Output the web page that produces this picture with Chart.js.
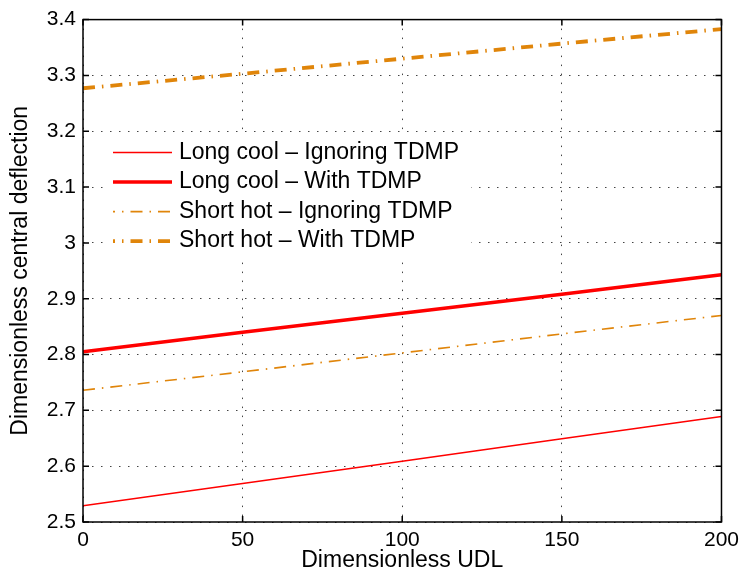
<!DOCTYPE html>
<html>
<head>
<meta charset="utf-8">
<script src="https://cdn.jsdelivr.net/npm/chart.js@4.4.0/dist/chart.umd.min.js"></script>
<style>
  html, body { margin: 0; padding: 0; background: #fff; }
  #wrap { width: 745px; height: 584px; }
</style>
</head>
<body>
<div id="wrap"><canvas id="deflectionChart" width="745" height="584"></canvas></div>
<script>
// values
const udl = [0, 50, 100, 150, 200];
const longCoolIgnoring = [2.529, 2.569, 2.609, 2.649, 2.689];
const longCoolWith = [2.805, 2.840, 2.874, 2.908, 2.943];
const shortHotIgnoring = [2.736, 2.769, 2.803, 2.837, 2.870];
const shortHotWith = [3.277, 3.303, 3.330, 3.357, 3.383];
const xTicks = [0, 50, 100, 150, 200];
const yTicks = [2.5, 2.6, 2.7, 2.8, 2.9, 3.0, 3.1, 3.2, 3.3, 3.4];

const RED = '#ff0000';
const ORANGE = '#e0850a';
const FONT = "'Liberation Sans', Arial, Helvetica, sans-serif";

function pts(ys) {
    return udl.map((x, i) => ({ x: x, y: ys[i] }));
}

// box, inward ticks and the in-plot legend
const matlabAxes = {
    id: 'matlabAxes',
    afterDatasetsDraw(chart) {
        const ctx = chart.ctx;
        const ca = chart.chartArea;
        const xs = chart.scales.x, ys = chart.scales.y;
        ctx.save();
        ctx.strokeStyle = '#000';
        ctx.lineWidth = 1.5;
        ctx.setLineDash([]);
        ctx.beginPath();
        xTicks.forEach(v => {
            const px = xs.getPixelForValue(v);
            ctx.moveTo(px, ca.bottom); ctx.lineTo(px, ca.bottom - 6);
            ctx.moveTo(px, ca.top); ctx.lineTo(px, ca.top + 6);
        });
        yTicks.forEach(v => {
            const py = ys.getPixelForValue(v);
            ctx.moveTo(ca.left, py); ctx.lineTo(ca.left + 6, py);
            ctx.moveTo(ca.right, py); ctx.lineTo(ca.right - 6, py);
        });
        ctx.stroke();
        ctx.strokeRect(ca.left, ca.top, ca.right - ca.left, ca.bottom - ca.top);

        // legend
        const bx = ca.left + 20, by = ca.top + 114;
        ctx.fillStyle = '#fff';
        ctx.fillRect(bx, by, 368, 124);
        ctx.font = '23px ' + FONT;
        ctx.textBaseline = 'middle';
        ctx.textAlign = 'left';
        chart.data.datasets.forEach((ds, i) => {
            const ry = ca.top + 133 + i * 29.5;
            ctx.strokeStyle = ds.borderColor;
            ctx.lineWidth = ds.borderWidth;
            ctx.setLineDash(ds.borderDash || []);
            ctx.lineDashOffset = ds.borderDash ? 10 : 0;
            ctx.beginPath();
            ctx.moveTo(ca.left + 30, ry);
            ctx.lineTo(ca.left + 89, ry);
            ctx.stroke();
            ctx.fillStyle = '#000';
            ctx.fillText(ds.label, ca.left + 96, ry);
        });
        ctx.restore();
    }
};

const ctx = document.getElementById('deflectionChart').getContext('2d');
const chart = new Chart(ctx, {
    type: 'line',
    data: {
        datasets: [{
            label: 'Long cool \u2013 Ignoring TDMP',
            data: pts(longCoolIgnoring),
            borderColor: RED,
            borderWidth: 1.5,
            pointRadius: 0,
            fill: false
        }, {
            label: 'Long cool \u2013 With TDMP',
            data: pts(longCoolWith),
            borderColor: RED,
            borderWidth: 3.5,
            pointRadius: 0,
            fill: false
        }, {
            label: 'Short hot \u2013 Ignoring TDMP',
            data: pts(shortHotIgnoring),
            borderColor: ORANGE,
            borderWidth: 1.6,
            borderDash: [12, 7, 1.5, 7],
            pointRadius: 0,
            fill: false
        }, {
            label: 'Short hot \u2013 With TDMP',
            data: pts(shortHotWith),
            borderColor: ORANGE,
            borderWidth: 3.8,
            borderDash: [12, 7, 1.5, 7],
            pointRadius: 0,
            fill: false
        }]
    },
    options: {
        responsive: false,
        animation: false,
        layout: { padding: { top: 18, right: 22, left: 0, bottom: 0 } },
        plugins: {
            legend: { display: false },
            tooltip: { enabled: false }
        },
        scales: {
            x: {
                type: 'linear',
                min: 0,
                max: 200,
                afterFit(s) { s.height = 62; },
                afterBuildTicks(s) { s.ticks = xTicks.map(v => ({ value: v })); },
                ticks: { color: '#000', font: { family: FONT, size: 21 }, padding: 6, maxRotation: 0 },
                grid: { color: '#444', lineWidth: 1, drawTicks: false },
                border: { display: false, dash: [1.5, 7.5] },
                title: {
                    display: true,
                    text: 'Dimensionless UDL',
                    color: '#000',
                    font: { family: FONT, size: 23 },
                    padding: { top: 0, bottom: 10 }
                }
            },
            y: {
                type: 'linear',
                min: 2.5,
                max: 3.4,
                afterFit(s) { s.width = 83; },
                afterBuildTicks(s) { s.ticks = yTicks.map(v => ({ value: v })); },
                ticks: {
                    color: '#000',
                    font: { family: FONT, size: 21 },
                    padding: 7,
                    callback: v => String(Number(v.toFixed(1)))
                },
                grid: { color: '#444', lineWidth: 1, drawTicks: false },
                border: { display: false, dash: [1.5, 7.5] },
                title: {
                    display: true,
                    text: 'Dimensionless central deflection',
                    color: '#000',
                    font: { family: FONT, size: 23 },
                    padding: { top: 7, bottom: 0 }
                }
            }
        }
    },
    plugins: [matlabAxes]
});
</script>
</body>
</html>
